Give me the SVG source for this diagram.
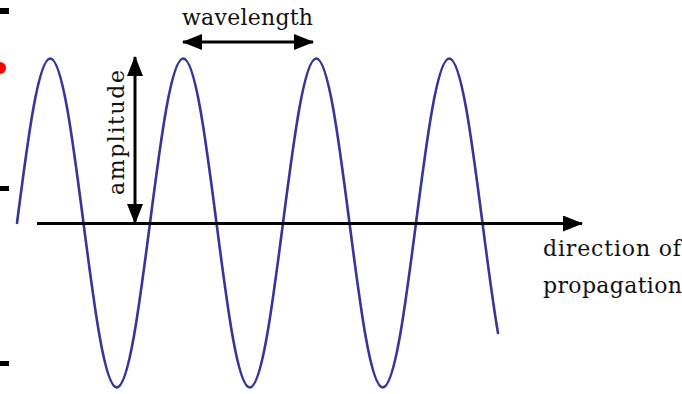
<svg xmlns="http://www.w3.org/2000/svg" width="682" height="394" viewBox="0 0 682 394">
  <style>
    .lbl { font-family: "DejaVu Serif", "Liberation Serif", serif; font-size: 22px; fill: #111; }
    .ln { stroke: #000; stroke-width: 3; fill: none; }
    .wave { stroke: #35359a; stroke-width: 2.6; fill: none; stroke-linecap: round; }
  </style>
  <defs>
    <marker id="ah" viewBox="0 0 20 16" refX="19" refY="8" markerWidth="20" markerHeight="16" markerUnits="userSpaceOnUse" orient="auto-start-reverse">
      <path d="M0,0 L20,8 L0,16 Z" fill="#000"/>
    </marker>
  </defs>
  <rect width="682" height="394" fill="#fff"/>

  <g id="edge-marks">
    <rect x="0" y="8" width="9" height="6" fill="#000"/>
    <circle cx="0" cy="68" r="6" fill="#f00"/>
    <rect x="0" y="186" width="9" height="5" fill="#000"/>
    <rect x="0" y="361" width="9" height="5" fill="#000"/>
  </g>

  <g id="wave">
    <path class="wave" d="M17,223
      c 10.83,-84.19 21.25,-164.5 33.25,-164.5 c 12,0 22.42,80.31 33.25,164.5
      c 10.83,84.19 21.25,164.5 33.25,164.5 c 12,0 22.42,-80.31 33.25,-164.5
      c 10.83,-84.19 21.25,-164.5 33.25,-164.5 c 12,0 22.42,80.31 33.25,164.5
      c 10.83,84.19 21.25,164.5 33.25,164.5 c 12,0 22.42,-80.31 33.25,-164.5
      c 10.83,-84.19 21.25,-164.5 33.25,-164.5 c 12,0 22.42,80.31 33.25,164.5
      c 10.83,84.19 21.25,164.5 33.25,164.5 c 12,0 22.42,-80.31 33.25,-164.5
      c 10.83,-84.19 21.25,-164.5 33.25,-164.5 c 12,0 22.42,80.31 33.25,164.5
      c 5.17,40.15 10.33,80.13 15.5,110"/>
  </g>

  <g id="connectors">
    <line id="axis" class="ln" x1="37" y1="223.5" x2="582" y2="223.5" marker-end="url(#ah)"/>
    <line id="wavelength-arrow" class="ln" x1="183" y1="42" x2="313" y2="42" marker-start="url(#ah)" marker-end="url(#ah)"/>
    <line id="amplitude-arrow" class="ln" x1="135" y1="57" x2="135" y2="223" marker-start="url(#ah)" marker-end="url(#ah)"/>
  </g>

  <g id="labels">
    <text class="lbl" x="182" y="25" textLength="131" lengthAdjust="spacing">wavelength</text>
    <text class="lbl" transform="translate(124,195) rotate(-90)" x="0" y="0" textLength="125" lengthAdjust="spacing">amplitude</text>
    <text class="lbl" x="543" y="256" textLength="138" lengthAdjust="spacing">direction of</text>
    <text class="lbl" x="543" y="293" textLength="139" lengthAdjust="spacing">propagation</text>
  </g>
</svg>
